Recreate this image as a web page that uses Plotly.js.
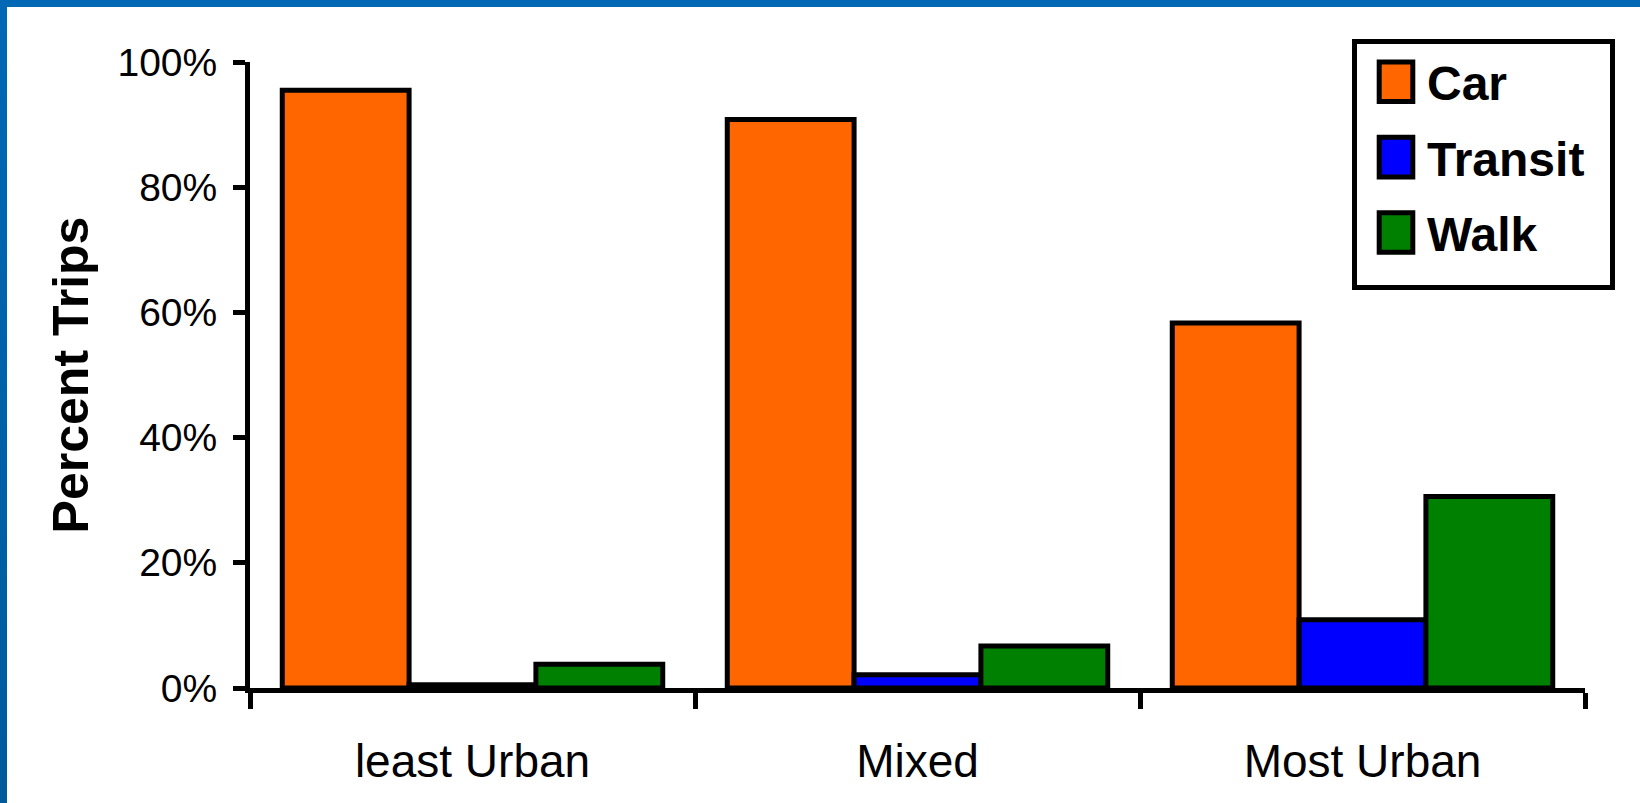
<!DOCTYPE html>
<html>
<head>
<meta charset="utf-8">
<script src="https://cdn.plot.ly/plotly-3.0.1.min.js"></script>
<style>
  html, body { margin: 0; padding: 0; background: #ffffff; }
  #wrap { position: relative; width: 1640px; height: 803px; overflow: hidden; background: #ffffff; }
  #chart { position: absolute; left: 0; top: 0; width: 1640px; height: 803px; }
  #bt { position: absolute; left: 0; top: 0; width: 1640px; height: 7px; background: #0068b5; }
  #bl { position: absolute; left: 0; top: 0; width: 7px; height: 803px; background: linear-gradient(#0068b5, #005a9c); }
</style>
</head>
<body>
<div id="wrap">
  <div id="chart"></div>
  <div id="bt"></div>
  <div id="bl"></div>
</div>
<script>
const categories = ["least Urban", "Mixed", "Most Urban"];
const seriesNames = ["Car", "Transit", "Walk"];
const carValues = [0.955, 0.908, 0.583];
const transitValues = [0.005, 0.021, 0.109];
const walkValues = [0.038, 0.067, 0.306];
const seriesColors = ["#ff6600", "#0000ff", "#008000"];
const yTickValues = [0, 0.2, 0.4, 0.6, 0.8, 1.0];
const yTickLabels = ["0%", "20%", "40%", "60%", "80%", "100%"];

const allValues = [carValues, transitValues, walkValues];
const traces = seriesNames.map((name, i) => ({
  type: "bar",
  name: name,
  legendgroup: name,
  x: categories,
  y: allValues[i],
  marker: { color: seriesColors[i], line: { color: "#000000", width: 5 } },
  hoverinfo: "skip"
}));

const layout = {
  width: 1640,
  height: 803,
  paper_bgcolor: "#ffffff",
  plot_bgcolor: "#ffffff",
  margin: { l: 250, r: 55, t: 62, b: 115, autoexpand: false },
  barmode: "group",
  bargap: 0.145,
  bargroupgap: 0,
  showlegend: true,
  legend: {
    xref: "container", yref: "container",
    x: 1352 / 1640, y: 1 - 39 / 803,
    xanchor: "left", yanchor: "top",
    bgcolor: "#ffffff",
    bordercolor: "#000000",
    borderwidth: 5,
    font: { family: "Liberation Sans, Arial, sans-serif", size: 48, color: "#000000", weight: "bold" },
    traceorder: "grouped",
    tracegroupgap: 10,
    itemwidth: 60
  },
  xaxis: {
    type: "category",
    range: [-0.5, 2.5],
    showline: true, linecolor: "#000000", linewidth: 5,
    ticks: "outside", tickson: "boundaries", ticklen: 16, tickwidth: 5, tickcolor: "#000000",
    showgrid: false, zeroline: false,
    tickfont: { family: "Liberation Sans, Arial, sans-serif", size: 46, color: "#000000" },
    ticklabelstandoff: 29,
    automargin: false
  },
  yaxis: {
    range: [0, 1],
    showline: true, linecolor: "#000000", linewidth: 5,
    ticks: "outside", ticklen: 12, tickwidth: 5, tickcolor: "#000000",
    tickvals: yTickValues, ticktext: yTickLabels,
    showgrid: false, zeroline: false,
    tickfont: { family: "Liberation Sans, Arial, sans-serif", size: 39, color: "#000000" },
    ticklabelstandoff: 8,
    title: { text: "Percent Trips", font: { family: "Liberation Sans, Arial, sans-serif", size: 50, color: "#000000", weight: "bold" }, standoff: 14 },
    automargin: false
  }
};

Plotly.newPlot("chart", traces, layout, { displayModeBar: false, staticPlot: true }).then(gd => {
  gd.querySelectorAll(".legend .legendpoints path").forEach(p => {
    const t = p.getAttribute("transform") || "";
    p.setAttribute("transform", t + " translate(4,0) scale(2.8,3.3)");
    p.setAttribute("vector-effect", "non-scaling-stroke");
    p.style.strokeWidth = "5px";
  });
  const bg = gd.querySelector(".legend rect.bg");
  if (bg) {
    bg.setAttribute("width", parseFloat(bg.getAttribute("width")) + 20);
    bg.setAttribute("height", parseFloat(bg.getAttribute("height")) + 14);
  }
});
</script>
</body>
</html>
